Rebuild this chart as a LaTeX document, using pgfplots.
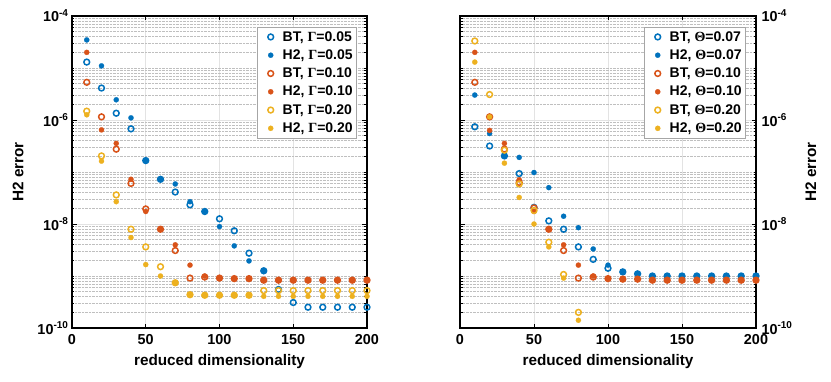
\documentclass[border=0pt]{standalone}
\usepackage{fontspec}
\setmainfont{Liberation Sans}
\newfontfamily\grk{Liberation Serif}
\usepackage{pgfplots}
\pgfplotsset{compat=1.18}

\definecolor{mblue}{rgb}{0,0.447,0.741}
\definecolor{mred}{rgb}{0.850,0.325,0.098}
\definecolor{myel}{rgb}{0.929,0.694,0.125}

\newcommand{\G}{{\grk\bfseries Γ}}
\newcommand{\T}{{\grk\bfseries Θ}}

\pgfplotsset{
  bto/.style={color=#1, only marks, mark=o, mark size=2.9pt, mark options={solid, draw=#1, line width=1.5pt}},
  hf/.style={color=#1, only marks, mark=*, mark size=2.6pt, mark options={solid, draw=#1, fill=#1, line width=0.2pt}},
}

\begin{document}
\begin{tikzpicture}
\useasboundingbox (0,0) rectangle (831pt,381pt);

\begin{axis}[at={(72pt,53pt)}, anchor=south west,
    scale only axis, width=295pt, height=312pt,
    ymode=log, xmin=0, xmax=200, ymin=1e-10, ymax=1e-4,
    xtick={0,50,100,150,200},
    ytick={1e-10,1e-8,1e-6,1e-4},
    yticklabels={10\textsuperscript{-10},10\textsuperscript{-8},10\textsuperscript{-6},10\textsuperscript{-4}},
    minor ytick={2e-10,3e-10,4e-10,5e-10,6e-10,7e-10,8e-10,9e-10,
      1e-9,2e-9,3e-9,4e-9,5e-9,6e-9,7e-9,8e-9,9e-9,
      2e-8,3e-8,4e-8,5e-8,6e-8,7e-8,8e-8,9e-8,
      1e-7,2e-7,3e-7,4e-7,5e-7,6e-7,7e-7,8e-7,9e-7,
      2e-6,3e-6,4e-6,5e-6,6e-6,7e-6,8e-6,9e-6,
      1e-5,2e-5,3e-5,4e-5,5e-5,6e-5,7e-5,8e-5,9e-5},
    grid=both,
    major grid style={gray!22, line width=0.8pt},
    minor grid style={gray!50, densely dotted, line width=0.5pt},
    tick align=inside,
    major tick length=4.5pt, minor tick length=2.5pt,
    tick style={black, line width=0.8pt},
    axis line style={black, line width=1.2pt},
    ticklabel style={font=\fontsize{14.4}{16}\selectfont\bfseries},
    xticklabel style={yshift=-3pt},
    /pgf/number format/assume math mode=true,
    xlabel={reduced dimensionality}, ylabel={H2 error},
    label style={font=\fontsize{15.3}{17}\selectfont\bfseries},
    xlabel shift=3pt, ylabel shift=7pt,
    legend style={at={(1,1)}, anchor=north east, xshift=-10pt, yshift=-11pt,
      draw=gray!70, line width=0.6pt, fill=white,
      font=\fontsize{14}{15}\selectfont\bfseries, row sep=3pt,
      inner xsep=2pt, inner ysep=2pt},
    legend image code/.code={\path (0cm,0cm) (0.72cm,0cm);
      \draw[#1] plot coordinates {(0.38cm,0cm)};},
    legend cell align=left]
\addplot[bto=mblue] coordinates {
  (10,1.30e-5) (20,4.12e-6) (30,1.35e-6) (40,6.76e-7) (50,1.66e-7) (60,7.24e-8)
  (70,4.12e-8) (80,2.34e-8) (90,1.74e-8) (100,1.26e-8) (110,7.41e-9) (120,2.75e-9)
  (130,1.26e-9) (140,5.50e-10) (150,3.09e-10) (160,2.51e-10) (170,2.51e-10)
  (180,2.51e-10) (190,2.51e-10) (200,2.51e-10) };
\addlegendentry{BT, \G=0.05}
\addplot[hf=mblue] coordinates {
  (10,3.47e-5) (20,1.10e-5) (30,2.45e-6) (40,1.10e-6) (50,1.66e-7) (60,7.24e-8)
  (70,5.89e-8) (80,2.69e-8) (90,1.74e-8) (100,8.91e-9) (110,3.80e-9) (120,1.95e-9)
  (130,1.26e-9) (140,8.32e-10) (150,8.32e-10) (160,8.32e-10) (170,8.32e-10)
  (180,8.32e-10) (190,8.32e-10) (200,8.32e-10) };
\addlegendentry{H2, \G=0.05}
\addplot[bto=mred] coordinates {
  (10,5.31e-6) (20,1.15e-6) (30,2.75e-7) (40,6.03e-8) (50,1.95e-8) (60,7.94e-9)
  (70,3.09e-9) (80,9.12e-10) (90,9.55e-10) (100,9.12e-10) (110,8.91e-10) (120,8.91e-10)
  (130,8.32e-10) (140,8.32e-10) (150,8.32e-10) (160,8.32e-10) (170,8.32e-10)
  (180,8.32e-10) (190,8.32e-10) (200,8.32e-10) };
\addlegendentry{BT, \G=0.10}
\addplot[hf=mred] coordinates {
  (10,2.00e-5) (20,6.46e-7) (30,3.55e-7) (40,7.24e-8) (50,1.74e-8) (60,7.94e-9)
  (70,3.98e-9) (80,1.62e-9) (90,1.00e-9) (100,9.12e-10) (110,8.91e-10) (120,8.91e-10)
  (130,8.32e-10) (140,8.32e-10) (150,8.32e-10) (160,8.32e-10) (170,8.32e-10)
  (180,8.32e-10) (190,8.32e-10) (200,8.32e-10) };
\addlegendentry{H2, \G=0.10}
\addplot[bto=myel] coordinates {
  (10,1.48e-6) (20,2.04e-7) (30,3.63e-8) (40,7.94e-9) (50,3.63e-9) (60,1.51e-9)
  (70,7.41e-10) (80,4.37e-10) (90,4.27e-10) (100,4.27e-10) (110,4.27e-10) (120,4.27e-10)
  (130,5.25e-10) (140,5.25e-10) (150,5.25e-10) (160,5.25e-10) (170,5.25e-10)
  (180,5.25e-10) (190,5.25e-10) (200,5.25e-10) };
\addlegendentry{BT, \G=0.20}
\addplot[hf=myel] coordinates {
  (10,1.26e-6) (20,1.62e-7) (30,2.69e-8) (40,5.50e-9) (50,1.66e-9) (60,1.00e-9)
  (70,7.41e-10) (80,4.37e-10) (90,4.27e-10) (100,4.27e-10) (110,4.27e-10) (120,4.27e-10)
  (130,4.07e-10) (140,4.07e-10) (150,4.07e-10) (160,4.07e-10) (170,4.07e-10)
  (180,4.07e-10) (190,4.07e-10) (200,4.07e-10) };
\addlegendentry{H2, \G=0.20}
\end{axis}

\begin{axis}[at={(460pt,53pt)}, anchor=south west,
    scale only axis, width=296pt, height=312pt,
    ymode=log, xmin=0, xmax=200, ymin=1e-10, ymax=1e-4,
    yticklabel pos=right,
    xtick={0,50,100,150,200},
    ytick={1e-10,1e-8,1e-6,1e-4},
    yticklabels={10\textsuperscript{-10},10\textsuperscript{-8},10\textsuperscript{-6},10\textsuperscript{-4}},
    minor ytick={2e-10,3e-10,4e-10,5e-10,6e-10,7e-10,8e-10,9e-10,
      1e-9,2e-9,3e-9,4e-9,5e-9,6e-9,7e-9,8e-9,9e-9,
      2e-8,3e-8,4e-8,5e-8,6e-8,7e-8,8e-8,9e-8,
      1e-7,2e-7,3e-7,4e-7,5e-7,6e-7,7e-7,8e-7,9e-7,
      2e-6,3e-6,4e-6,5e-6,6e-6,7e-6,8e-6,9e-6,
      1e-5,2e-5,3e-5,4e-5,5e-5,6e-5,7e-5,8e-5,9e-5},
    grid=both,
    major grid style={gray!22, line width=0.8pt},
    minor grid style={gray!50, densely dotted, line width=0.5pt},
    tick align=inside,
    major tick length=4.5pt, minor tick length=2.5pt,
    tick style={black, line width=0.8pt},
    axis line style={black, line width=1.2pt},
    ticklabel style={font=\fontsize{14.4}{16}\selectfont\bfseries},
    yticklabel style={xshift=2pt},
    xticklabel style={yshift=-3pt},
    /pgf/number format/assume math mode=true,
    xlabel={reduced dimensionality}, ylabel={H2 error},
    label style={font=\fontsize{15.3}{17}\selectfont\bfseries},
    xlabel shift=3pt, ylabel shift=6pt,
    legend style={at={(1,1)}, anchor=north east, xshift=-10pt, yshift=-11pt,
      draw=gray!70, line width=0.6pt, fill=white,
      font=\fontsize{14}{15}\selectfont\bfseries, row sep=3pt,
      inner xsep=2pt, inner ysep=2pt},
    legend image code/.code={\path (0cm,0cm) (0.72cm,0cm);
      \draw[#1] plot coordinates {(0.38cm,0cm)};},
    legend cell align=left]
\addplot[bto=mblue] coordinates {
  (10,7.41e-7) (20,3.16e-7) (30,2.04e-7) (40,9.33e-8) (50,2.09e-8) (60,1.15e-8)
  (70,7.94e-9) (80,3.63e-9) (90,2.09e-9) (100,1.41e-9) (110,1.20e-9) (120,1.10e-9)
  (130,1.00e-9) (140,1.00e-9) (150,1.00e-9) (160,1.00e-9) (170,1.00e-9)
  (180,1.00e-9) (190,1.00e-9) (200,1.00e-9) };
\addlegendentry{BT, \T=0.07}
\addplot[hf=mblue] coordinates {
  (10,3.02e-6) (20,5.50e-7) (30,2.04e-7) (40,1.91e-7) (50,9.77e-8) (60,5.01e-8)
  (70,1.41e-8) (80,8.51e-9) (90,3.31e-9) (100,1.62e-9) (110,1.20e-9) (120,1.10e-9)
  (130,1.00e-9) (140,1.00e-9) (150,1.00e-9) (160,1.00e-9) (170,1.00e-9)
  (180,1.00e-9) (190,1.00e-9) (200,1.00e-9) };
\addlegendentry{H2, \T=0.07}
\addplot[bto=mred] coordinates {
  (10,5.31e-6) (20,1.15e-6) (30,2.75e-7) (40,6.31e-8) (50,2.04e-8) (60,7.94e-9)
  (70,3.09e-9) (80,9.12e-10) (90,9.55e-10) (100,8.91e-10) (110,8.71e-10) (120,8.71e-10)
  (130,8.32e-10) (140,8.32e-10) (150,8.32e-10) (160,8.32e-10) (170,8.32e-10)
  (180,8.32e-10) (190,8.32e-10) (200,8.32e-10) };
\addlegendentry{BT, \T=0.10}
\addplot[hf=mred] coordinates {
  (10,2.00e-5) (20,6.31e-7) (30,3.55e-7) (40,7.08e-8) (50,1.74e-8) (60,7.94e-9)
  (70,3.98e-9) (80,1.62e-9) (90,1.00e-9) (100,8.91e-10) (110,8.71e-10) (120,8.71e-10)
  (130,8.32e-10) (140,8.32e-10) (150,8.32e-10) (160,8.32e-10) (170,8.32e-10)
  (180,8.32e-10) (190,8.32e-10) (200,8.32e-10) };
\addlegendentry{H2, \T=0.10}
\addplot[bto=myel] coordinates {
  (10,3.31e-5) (20,3.09e-6) (30,2.63e-7) (40,5.89e-8) (50,1.82e-8) (60,4.47e-9)
  (70,1.07e-9) (80,2.00e-10) };
\addlegendentry{BT, \T=0.20}
\addplot[hf=myel] coordinates {
  (10,1.30e-5) (20,1.15e-6) (30,1.48e-7) (40,3.24e-8) (50,1.00e-8) (60,3.63e-9)
  (70,9.12e-10) (80,1.41e-10) };
\addlegendentry{H2, \T=0.20}
\end{axis}
\end{tikzpicture}
\end{document}
